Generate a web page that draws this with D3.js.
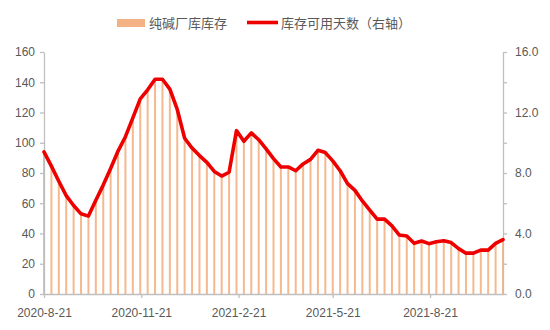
<!DOCTYPE html>
<html>
<head>
<meta charset="utf-8">
<script src="https://cdn.jsdelivr.net/npm/d3@7/dist/d3.min.js"></script>
<style>
  html, body { margin: 0; padding: 0; background: #fff; }
  svg { display: block; }
</style>
</head>
<body>
<svg id="chart" width="550" height="330"></svg>
<script>
// Weekly observation dates (Fridays)
const dates = [
  "2020-08-21","2020-08-28","2020-09-04","2020-09-11","2020-09-18","2020-09-25",
  "2020-10-02","2020-10-09","2020-10-16","2020-10-23","2020-10-30",
  "2020-11-06","2020-11-13","2020-11-20","2020-11-27",
  "2020-12-04","2020-12-11","2020-12-18","2020-12-25",
  "2021-01-01","2021-01-08","2021-01-15","2021-01-22","2021-01-29",
  "2021-02-05","2021-02-12","2021-02-19","2021-02-26",
  "2021-03-05","2021-03-12","2021-03-19","2021-03-26",
  "2021-04-02","2021-04-09","2021-04-16","2021-04-23","2021-04-30",
  "2021-05-07","2021-05-14","2021-05-21","2021-05-28",
  "2021-06-04","2021-06-11","2021-06-18","2021-06-25",
  "2021-07-02","2021-07-09","2021-07-16","2021-07-23","2021-07-30",
  "2021-08-06","2021-08-13","2021-08-20","2021-08-27",
  "2021-09-03","2021-09-10","2021-09-17","2021-09-24",
  "2021-10-01","2021-10-08","2021-10-15","2021-10-22","2021-10-29"
];

// 纯碱厂库库存 (left axis)
const inventory = [
  94, 84.5, 74.5, 65, 58.5, 53, 51.5, 62, 72, 83,
  94.5, 104, 116.5, 129, 135, 142, 142, 135.5, 122, 103,
  96.5, 91.5, 87, 81, 78, 80.5, 108, 101, 106.5, 102,
  96, 89.5, 84, 84, 81.5, 86, 89, 95, 93.5, 88,
  81.5, 73, 68.5, 61.5, 55.5, 49.5, 49.5, 45, 39, 38.3,
  33.5, 35, 33.3, 34.5, 35.2, 34, 30, 27, 27, 29,
  29, 33.5, 36
];

// 库存可用天数 (right axis)
const days = [
  9.4, 8.45, 7.45, 6.5, 5.85, 5.3, 5.15, 6.2, 7.2, 8.3,
  9.45, 10.4, 11.65, 12.9, 13.5, 14.2, 14.2, 13.55, 12.2, 10.3,
  9.65, 9.15, 8.7, 8.1, 7.8, 8.05, 10.8, 10.1, 10.65, 10.2,
  9.6, 8.95, 8.4, 8.4, 8.15, 8.6, 8.9, 9.5, 9.35, 8.8,
  8.15, 7.3, 6.85, 6.15, 5.55, 4.95, 4.95, 4.5, 3.9, 3.83,
  3.35, 3.5, 3.33, 3.45, 3.52, 3.4, 3.0, 2.7, 2.7, 2.9,
  2.9, 3.35, 3.6
];

const leftTicks = [0, 20, 40, 60, 80, 100, 120, 140, 160];
const rightTicks = [0, 2, 4, 6, 8, 10, 12, 14, 16];
const dateTicks = ["2020-08-21", "2020-11-21", "2021-02-21", "2021-05-21", "2021-08-21"];

const legendLabels = ["纯碱厂库库存", "库存可用天数（右轴）"];

const parse = d3.timeParse("%Y-%m-%d");
const fmtDate = d3.timeFormat("%Y-%-m-%-d");
const rows = dates.map((d, i) => ({ date: parse(d), inv: inventory[i], days: days[i] }));

const svg = d3.select("#chart");
const plot = { left: 44, right: 503, top: 52, bottom: 294 };

const x = d3.scaleTime()
  .domain(d3.extent(rows, r => r.date))
  .range([plot.left, plot.right]);
const yL = d3.scaleLinear().domain([0, 160]).range([plot.bottom, plot.top]);
const yR = d3.scaleLinear().domain([0, 16]).range([plot.bottom, plot.top]);

const barColor = "#F4B183";
const lineColor = "#EE0000";
const axisColor = "#BFBFBF";
const textColor = "#595959";
const tickFont = "'Liberation Sans', Arial, sans-serif";

// Inventory bars
svg.append("g")
  .selectAll("rect")
  .data(rows)
  .join("rect")
  .attr("x", r => x(r.date) - 1)
  .attr("width", 2)
  .attr("y", r => yL(r.inv))
  .attr("height", r => yL(0) - yL(r.inv))
  .attr("fill", barColor)
  .attr("fill-opacity", 0.9);

function styleAxis(g) {
  g.select(".domain").attr("stroke", axisColor).attr("stroke-width", 1.3);
  g.selectAll(".tick line").attr("stroke", axisColor).attr("stroke-width", 1.3);
  g.selectAll(".tick text")
    .attr("fill", textColor)
    .style("font-family", tickFont)
    .style("font-size", "12px");
}

// Left axis
svg.append("g")
  .attr("transform", `translate(${plot.left},0)`)
  .call(d3.axisLeft(yL).tickValues(leftTicks).tickSize(4).tickSizeOuter(0).tickPadding(5))
  .call(styleAxis);

// Right axis: ticks every 2, labels every 4
svg.append("g")
  .attr("transform", `translate(${plot.right},0)`)
  .call(d3.axisRight(yR).tickValues(rightTicks).tickSize(4).tickSizeOuter(0).tickPadding(8)
    .tickFormat(d => d % 4 === 0 ? d3.format(".1f")(d) : ""))
  .call(styleAxis);

// Bottom date axis
svg.append("g")
  .attr("transform", `translate(0,${plot.bottom})`)
  .call(d3.axisBottom(x).tickValues(dateTicks.map(parse)).tickSize(4).tickSizeOuter(0)
    .tickPadding(10).tickFormat(fmtDate))
  .call(styleAxis);

// Days-of-cover line
svg.append("path")
  .datum(rows)
  .attr("fill", "none")
  .attr("stroke", lineColor)
  .attr("stroke-width", 3.6)
  .attr("stroke-linejoin", "round")
  .attr("stroke-linecap", "round")
  .attr("d", d3.line().x(r => x(r.date)).y(r => yR(r.days)));

// Legend
const legend = svg.append("g")
  .style("font-family", "'Noto Sans CJK SC', sans-serif")
  .style("font-size", "13px")
  .attr("fill", textColor);
legend.append("rect").attr("x", 117).attr("y", 19).attr("width", 28).attr("height", 8).attr("fill", barColor);
legend.append("text").attr("x", 149).attr("y", 27.5).text(legendLabels[0]);
legend.append("line").attr("x1", 247).attr("x2", 278).attr("y1", 22.5).attr("y2", 22.5)
  .attr("stroke", lineColor).attr("stroke-width", 3.6);
legend.append("text").attr("x", 281).attr("y", 27.5).text(legendLabels[1]);
</script>
</body>
</html>
